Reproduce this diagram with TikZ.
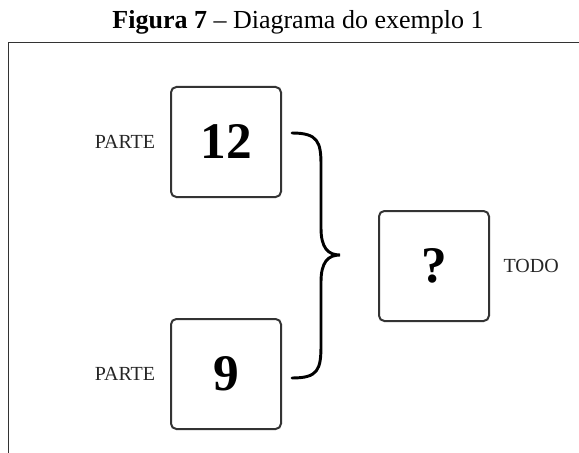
\documentclass[tikz,border=0pt]{standalone}
\usepackage{fontspec}
\setmainfont{Liberation Serif}
\usetikzlibrary{positioning}

\begin{document}
\begin{tikzpicture}[x=0.75pt,y=-0.75pt,
    caixa/.style={draw=black!80, line width=1.5pt, rounded corners=4pt, minimum size=82.5pt, inner sep=0pt, font=\bfseries\fontsize{38.5}{38.5}\selectfont},
    rotulo/.style={font=\fontsize{15}{17}\selectfont, text=black!85, inner sep=0pt}]
    \useasboundingbox (0,0) rectangle (579,453);

    \node (titulo) at (298,22) {\fontsize{19.5}{22}\selectfont\textbf{Figura 7} -- Diagrama do exemplo 1};
    \draw[black!80, line width=0.7pt] (579,42) -- (8,42) -- (8,453);

    \node[caixa] (parte1) at (226,142) {12};
    \node[caixa] (parte2) at (226,374) {9};
    \node[caixa] (todo) at (434,266) {?};

    \node[rotulo, left=11pt of parte1] (lparte1) {PARTE};
    \node[rotulo, left=11pt of parte2] (lparte2) {PARTE};
    \node[rotulo, right=10pt of todo] (ltodo) {TODO};

%    chave juntando as duas partes
    \coordinate (cima) at (292,133);
    \coordinate (ponta) at (340,255);
    \coordinate (baixo) at (292,378);
    \draw[line width=2.2pt, line cap=round] (cima) .. controls (318,133) and (321,142) .. (321,165) -- (321,228)
        .. controls (321,248) and (328,255) .. (ponta) .. controls (328,255) and (321,262) .. (321,282) -- (321,345)
        .. controls (321,370) and (318,378) .. (baixo);

\end{tikzpicture}
\end{document}
